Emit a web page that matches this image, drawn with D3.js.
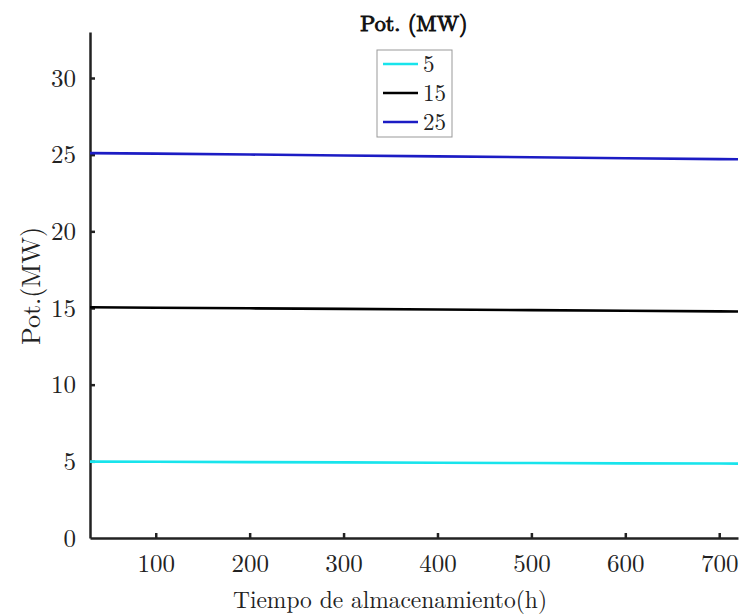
<!DOCTYPE html>
<html>
<head>
<meta charset="utf-8">
<script src="https://cdn.jsdelivr.net/npm/d3@7"></script>
<style>
  html, body { margin: 0; padding: 0; background: #fff; }
  svg { display: block; }
</style>
</head>
<body>
<svg id="chart" width="744" height="616"></svg>
<script>
// Storage time (h) at which power is sampled
const hours = [30, 100, 200, 300, 400, 500, 600, 700, 720];
// Delivered power (MW) for each nominal rating
const pot5  = [4.98, 4.97, 4.95, 4.93, 4.91, 4.89, 4.87, 4.86, 4.85];
const pot15 = [15.05, 15.02, 14.98, 14.94, 14.90, 14.86, 14.82, 14.78, 14.77];
const pot25 = [25.10, 25.07, 25.01, 24.95, 24.89, 24.83, 24.77, 24.71, 24.70];
const seriesNames = ["5", "15", "25"];
const seriesColors = ["#18e4ec", "#000000", "#1c1cc4"];
const xTicks = [100, 200, 300, 400, 500, 600, 700];
const yTicks = [0, 5, 10, 15, 20, 25, 30];

const SERIF = '"Latin Modern Roman", "Liberation Serif", serif';

const svg = d3.select("#chart");
const margin = { left: 90, right: 6, top: 32, bottom: 78 };
const W = 744, H = 616;

const x = d3.scaleLinear().domain([30, 720]).range([margin.left, W - margin.right]);
const y = d3.scaleLinear().domain([0, 33]).range([H - margin.bottom, margin.top]);

// Axes (ticks point inward)
const xAxis = d3.axisBottom(x).tickValues(xTicks).tickSize(-5).tickPadding(16).tickSizeOuter(0);
const yAxis = d3.axisLeft(y).tickValues(yTicks).tickSize(-5).tickPadding(14).tickSizeOuter(0);

const gx = svg.append("g").attr("transform", `translate(0,${H - margin.bottom})`).call(xAxis);
const gy = svg.append("g").attr("transform", `translate(${margin.left},0)`).call(yAxis);

[gx, gy].forEach(g => {
  g.attr("font-family", SERIF).attr("font-size", 25);
  g.select(".domain").attr("stroke", "#222").attr("stroke-width", 2.5);
  g.selectAll(".tick line").attr("stroke", "#222").attr("stroke-width", 2.5);
  g.selectAll(".tick text").attr("fill", "#222");
});
gy.selectAll(".tick line").filter(d => d === 0).attr("opacity", 0);

// Series lines
const allSeries = [pot5, pot15, pot25];
const line = d3.line().x((d, i) => x(hours[i])).y(d => y(d));
svg.append("g").selectAll("path")
  .data(allSeries)
  .join("path")
  .attr("d", d => line(d))
  .attr("fill", "none")
  .attr("stroke", (d, i) => seriesColors[i])
  .attr("stroke-width", 2.6);

// Title (heavy weight drawn with a thin outline)
svg.append("text")
  .attr("x", 414).attr("y", 31)
  .attr("text-anchor", "middle")
  .attr("font-family", SERIF)
  .attr("font-size", 22)
  .attr("fill", "#111")
  .attr("stroke", "#111").attr("stroke-width", 1)
  .text("Pot. (MW)");

// Axis labels
svg.append("text")
  .attr("x", 390).attr("y", 608)
  .attr("text-anchor", "middle")
  .attr("font-family", SERIF)
  .attr("font-size", 24)
  .attr("textLength", 314)
  .attr("lengthAdjust", "spacingAndGlyphs")
  .attr("fill", "#222")
  .text("Tiempo de almacenamiento(h)");

svg.append("text")
  .attr("transform", "translate(40,286) rotate(-90)")
  .attr("text-anchor", "middle")
  .attr("font-family", SERIF)
  .attr("font-size", 26)
  .attr("fill", "#222")
  .text("Pot.(MW)");

// Legend
const legend = svg.append("g");
legend.append("rect")
  .attr("x", 377).attr("y", 50).attr("width", 75).attr("height", 87)
  .attr("fill", "#fff").attr("stroke", "#999").attr("stroke-width", 1);
seriesNames.forEach((name, i) => {
  const ly = 64 + i * 29;
  legend.append("line")
    .attr("x1", 383).attr("x2", 418).attr("y1", ly).attr("y2", ly)
    .attr("stroke", seriesColors[i]).attr("stroke-width", 2.6);
  legend.append("text")
    .attr("x", 423).attr("y", ly).attr("dy", "0.35em")
    .attr("font-family", SERIF)
    .attr("font-size", 23)
    .attr("fill", "#222")
    .text(name);
});
</script>
</body>
</html>
